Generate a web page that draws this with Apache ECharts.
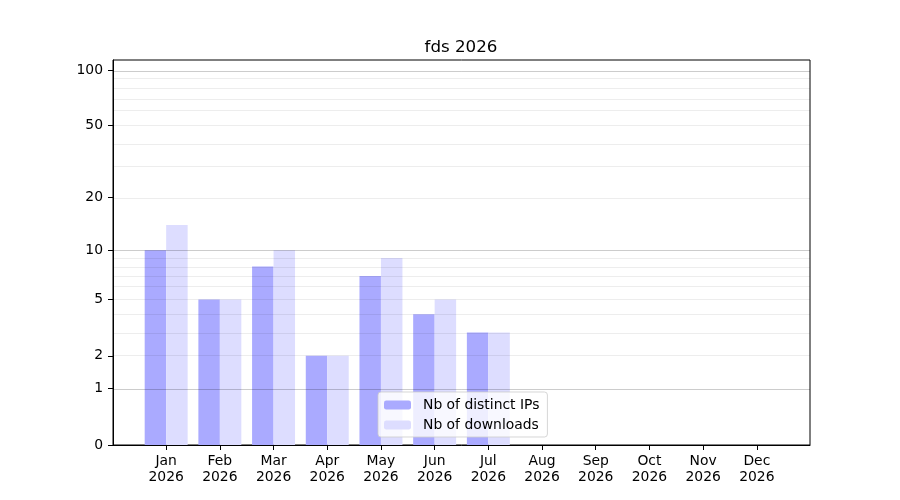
<!DOCTYPE html>
<html>
<head>
<meta charset="utf-8">
<script src="https://cdn.jsdelivr.net/npm/echarts@6/dist/echarts.min.js"></script>
<style>html,body{margin:0;padding:0;background:#fff}#c{width:900px;height:500px}</style>
</head>
<body>
<div id="c"></div>
<script>
const titleText = 'fds 2026';
const months = ['Jan','Feb','Mar','Apr','May','Jun','Jul','Aug','Sep','Oct','Nov','Dec'];
const year = '2026';
const ips = [10, 5, 8, 2, 7, 4, 3, 0, 0, 0, 0, 0];
const downloads = [14, 5, 10, 2, 9, 5, 3, 0, 0, 0, 0, 0];
const yTickLabels = [0, 1, 2, 5, 10, 20, 50, 100];
const majorGrid = [1, 10, 100];
const minorGrid = [2, 3, 4, 5, 6, 7, 8, 9, 20, 30, 40, 50, 60, 70, 80, 90];
const yMaxValue = 113.5;

const f = v => Math.log10(1 + v);
const font = 'DejaVu Sans';

const chart = echarts.init(document.getElementById('c'));
const markData = majorGrid.map(v => ({yAxis: f(v), lineStyle: {color: 'rgba(0,0,0,0.2)', width: 1, type: 'solid'}}))
  .concat(minorGrid.map(v => ({yAxis: f(v), lineStyle: {color: 'rgba(0,0,0,0.07)', width: 1, type: 'solid'}})));

chart.setOption({
  animation: false,
  backgroundColor: '#fff',
  textStyle: {fontFamily: font},
  title: {
    text: titleText, left: 456, top: 34, textAlign: 'center',
    textStyle: {fontFamily: font, fontSize: 16.7, fontWeight: 'normal', color: '#000'}
  },
  grid: {left: 113, right: 90, top: 60, bottom: 55, show: true, borderColor: '#000', borderWidth: 1, backgroundColor: 'transparent'},
  legend: {
    orient: 'vertical', left: 378, top: 392,
    data: ['Nb of distinct IPs', 'Nb of downloads'],
    itemWidth: 27, itemHeight: 9, itemGap: 4,
    padding: [5, 8, 4, 6],
    backgroundColor: 'rgba(255,255,255,0.8)',
    borderColor: 'rgba(204,204,204,0.8)', borderWidth: 1, borderRadius: 3,
    textStyle: {fontFamily: font, fontSize: 13.9, color: '#000', lineHeight: 16, padding: [0, 0, 0, 7]},
    selectedMode: false, z: 20
  },
  xAxis: {
    type: 'value', min: -0.99, max: 11.99,
    axisLine: {show: true, onZero: false, lineStyle: {color: '#000', width: 1}},
    axisTick: {show: true, length: 5, customValues: months.map((m, i) => i), lineStyle: {color: '#000'}},
    axisLabel: {
      customValues: months.map((m, i) => i), margin: 8,
      formatter: v => months[Math.round(v)] + '\n' + year,
      fontFamily: font, fontSize: 13.9, color: '#000', lineHeight: 16
    },
    splitLine: {show: false}
  },
  yAxis: {
    type: 'value', min: 0, max: f(yMaxValue),
    axisLine: {show: true, onZero: false, lineStyle: {color: '#000', width: 1}},
    axisTick: {show: true, length: 5, customValues: yTickLabels.map(f), lineStyle: {color: '#000'}},
    axisLabel: {
      customValues: yTickLabels.map(f), margin: 10,
      formatter: v => String(Math.round(Math.pow(10, v) - 1)),
      fontFamily: font, fontSize: 13.9, color: '#000'
    },
    splitLine: {show: false}
  },
  series: [
    {
      name: 'Nb of distinct IPs', type: 'bar', barWidth: '40%', barGap: '0%',
      itemStyle: {color: '#aaaaff'},
      data: ips.map((v, i) => [i, f(v)]),
      markLine: {silent: true, symbol: ['none', 'none'], label: {show: false}, animation: false, data: markData}
    },
    {
      name: 'Nb of downloads', type: 'bar', barWidth: '40%', barGap: '0%',
      itemStyle: {color: '#ddddff'},
      data: downloads.map((v, i) => [i, f(v)])
    }
  ]
});
</script>
</body>
</html>
